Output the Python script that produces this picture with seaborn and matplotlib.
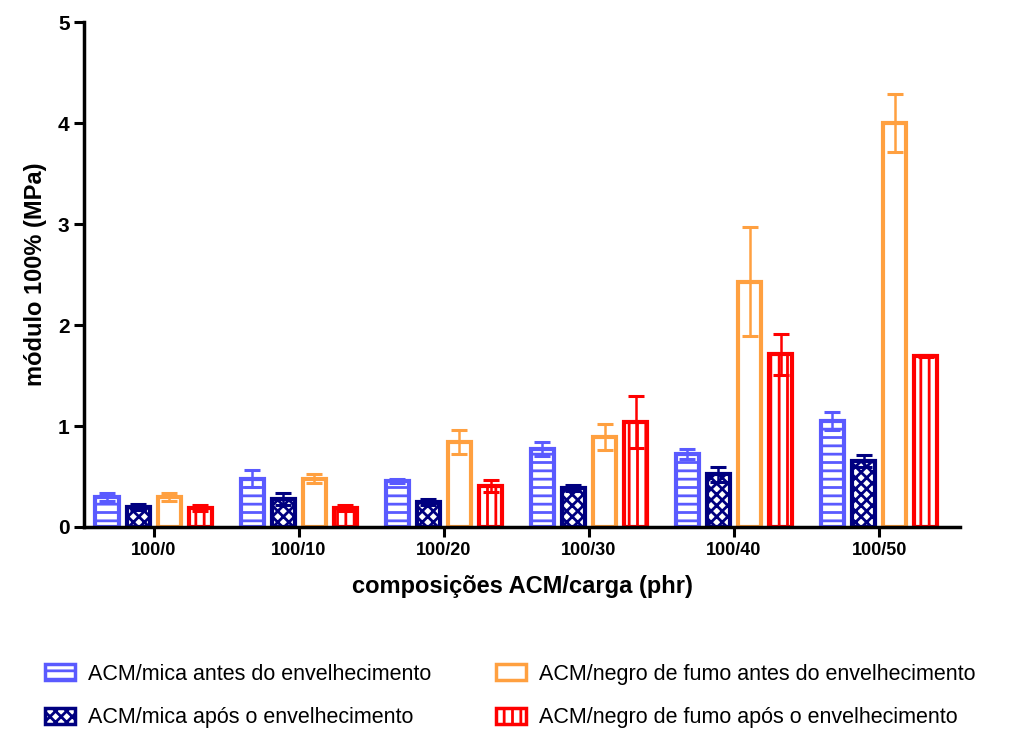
import numpy as np
import pandas as pd
import matplotlib
matplotlib.use("Agg")
import matplotlib.pyplot as plt
import seaborn as sns
from matplotlib.patches import Patch

composicoes = ["100/0", "100/10", "100/20", "100/30", "100/40", "100/50"]
series = [
    "ACM/mica antes do envelhecimento",
    "ACM/mica após o envelhecimento",
    "ACM/negro de fumo antes do envelhecimento",
    "ACM/negro de fumo após o envelhecimento",
]
mica_antes = [0.30, 0.48, 0.46, 0.77, 0.72, 1.05]
mica_antes_err = [0.04, 0.08, 0.02, 0.07, 0.05, 0.09]
mica_apos = [0.20, 0.28, 0.25, 0.39, 0.52, 0.65]
mica_apos_err = [0.03, 0.06, 0.03, 0.03, 0.07, 0.06]
negro_antes = [0.30, 0.48, 0.84, 0.89, 2.43, 4.00]
negro_antes_err = [0.04, 0.04, 0.12, 0.13, 0.54, 0.29]
negro_apos = [0.19, 0.19, 0.41, 1.04, 1.71, 1.69]
negro_apos_err = [0.03, 0.03, 0.06, 0.26, 0.20, 0.01]

valores = [mica_antes, mica_apos, negro_antes, negro_apos]
erros = [mica_antes_err, mica_apos_err, negro_antes_err, negro_apos_err]
cores = ["#5a5aff", "#000080", "#ffa040", "#ff0000"]
hachuras = ["--", "xxx", "", "||"]

df = pd.DataFrame({
    "comp": np.tile(composicoes, len(series)),
    "serie": np.repeat(series, len(composicoes)),
    "valor": np.concatenate(valores),
})

sns.set_style("ticks")
plt.rcParams["font.family"] = ["Liberation Sans", "DejaVu Sans"]
plt.rcParams.update({
    "text.color": "black", "axes.labelcolor": "black",
    "xtick.color": "black", "ytick.color": "black",
    "axes.edgecolor": "black", "hatch.linewidth": 2.0,
})

fig = plt.figure(figsize=(10.26, 7.35), dpi=100)
ax = fig.add_axes([0.082, 0.283, 0.854, 0.687])

sns.barplot(data=df, x="comp", y="valor", hue="serie", order=composicoes,
            hue_order=series, palette=cores, width=0.857, gap=0.25,
            errorbar=None, ax=ax, legend=False)

for cont, cor, hat, val, err in zip(ax.containers, cores, hachuras, valores, erros):
    xs = []
    for p in cont.patches:
        p.set_facecolor("white")
        p.set_edgecolor(cor)
        p.set_hatch(hat)
        p.set_linewidth(3)
        xs.append(p.get_x() + p.get_width() / 2)
    ax.errorbar(xs, val, yerr=err, fmt="none", ecolor=cor, elinewidth=1.8,
                capsize=6, capthick=2.2, zorder=5)

ax.set_ylim(0, 5)
ax.set_xlim(-0.48, 5.56)
ax.set_yticks([0, 1, 2, 3, 4, 5])
for s in ["top", "right"]:
    ax.spines[s].set_visible(False)
for s in ["left", "bottom"]:
    ax.spines[s].set_linewidth(2.5)
ax.tick_params(axis="both", width=2.2, length=7)
ax.tick_params(axis="x", labelsize=13)
ax.tick_params(axis="y", labelsize=15)
for lab in ax.get_xticklabels() + ax.get_yticklabels():
    lab.set_fontweight("bold")
ax.set_xlabel("composições ACM/carga (phr)", fontsize=17, fontweight="bold", labelpad=12)
ax.set_ylabel("módulo 100% (MPa)", fontsize=17, fontweight="bold", labelpad=8)

handles = [Patch(facecolor="white", edgecolor=c, hatch=h, linewidth=2.5)
           for c, h in zip(cores, hachuras)]
fig.legend(handles, series, ncol=2, loc="center left", bbox_to_anchor=(0.025, 0.053),
           frameon=False, fontsize=15.5, columnspacing=3.0, handlelength=1.4,
           handleheight=0.8, handletextpad=0.6, labelspacing=1.05)

fig.savefig("out.png", dpi=100)
